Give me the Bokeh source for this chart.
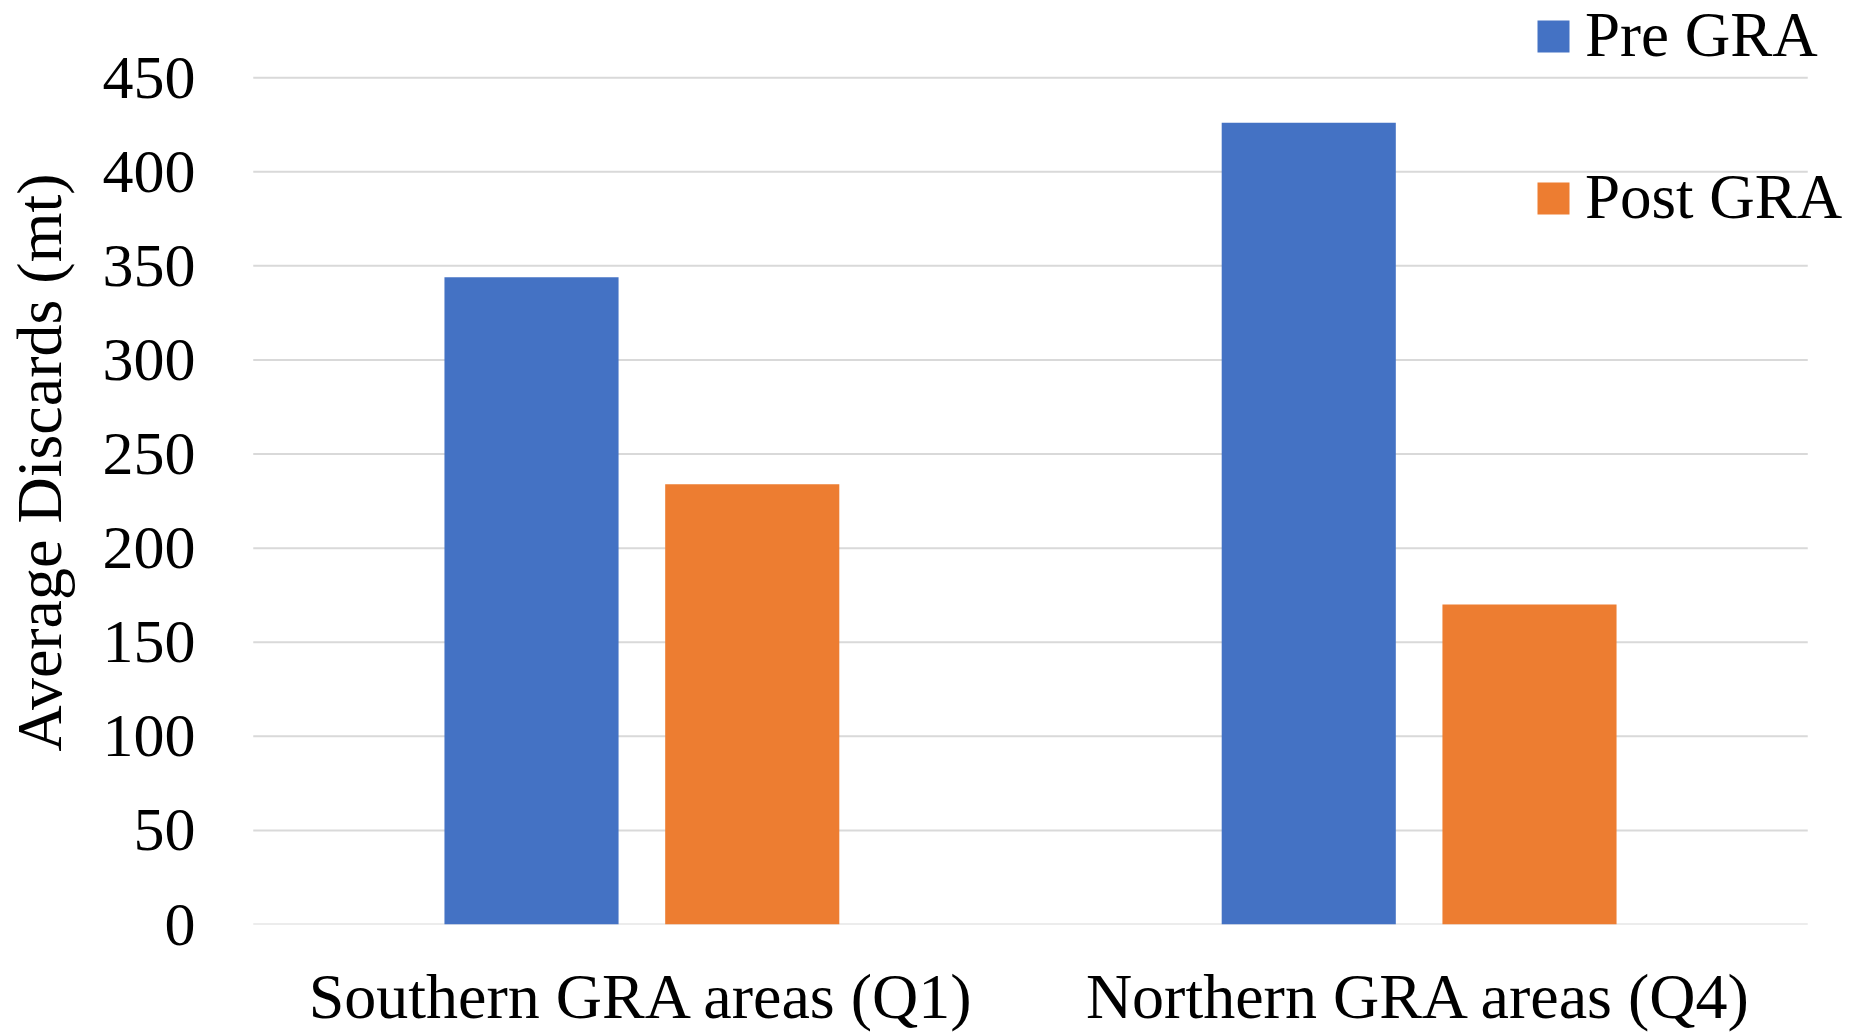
from bokeh.plotting import figure
from bokeh.models import (ColumnDataSource, FactorRange, Range1d, Legend, LegendItem,
                          FixedTicker)
from bokeh.transform import dodge
from bokeh.embed import file_html
from bokeh.resources import INLINE

categories = ["Southern GRA areas (Q1)", "Northern GRA areas (Q4)"]
series = ["Pre GRA", "Post GRA"]
pre_gra = [344, 426]
post_gra = [234, 170]
colors = ["#4472C4", "#ED7D31"]
y_ticks = [0, 50, 100, 150, 200, 250, 300, 350, 400, 450]
y_label = "Average Discards (mt)"

FONT = "Liberation Serif"

src = ColumnDataSource(dict(cat=categories, pre=pre_gra, post=post_gra))
grid_src = ColumnDataSource(dict(c0=[categories[0]] * len(y_ticks),
                                 c1=[categories[-1]] * len(y_ticks),
                                 y=y_ticks))

p = figure(x_range=FactorRange(*categories, range_padding=0.046,
                               range_padding_units="absolute"),
           y_range=Range1d(0, 491),
           width=1862, height=1034, output_backend="svg", toolbar_location=None,
           min_border_left=217, min_border_right=19, min_border_top=0,
           min_border_bottom=105)

# horizontal gridlines spanning only the category area
p.segment(x0=dodge("c0", -0.5, range=p.x_range), x1=dodge("c1", 0.5, range=p.x_range),
          y0="y", y1="y", source=grid_src, line_color="#D9D9D9", line_width=2)

r_pre = p.vbar(x=dodge("cat", -0.142, range=p.x_range), top="pre", width=0.224,
               source=src, color=colors[0], line_color=None)
r_post = p.vbar(x=dodge("cat", 0.142, range=p.x_range), top="post", width=0.224,
                source=src, color=colors[1], line_color=None)

p.outline_line_color = None
p.xgrid.grid_line_color = None
p.ygrid.grid_line_color = None

p.yaxis.ticker = FixedTicker(ticks=y_ticks)
for ax in (p.xaxis[0], p.yaxis[0]):
    ax.axis_line_color = None
    ax.major_tick_line_color = None
    ax.minor_tick_line_color = None
    ax.major_label_text_font = FONT
    ax.major_label_text_color = "black"
p.yaxis.major_label_text_font_size = "62px"
p.xaxis.major_label_text_font_size = "64px"
p.yaxis.major_label_standoff = 16
p.xaxis.major_label_standoff = 30

p.yaxis.axis_label = y_label
p.yaxis.axis_label_text_font = FONT
p.yaxis.axis_label_text_font_size = "64px"
p.yaxis.axis_label_text_font_style = "normal"
p.yaxis.axis_label_text_color = "black"
p.yaxis.axis_label_standoff = 25

common = dict(padding=0, margin=0, glyph_width=40, glyph_height=40, label_height=31,
              label_standoff=12, label_text_font=FONT, label_text_font_size="63px",
              label_text_color="black", border_line_color=None,
              background_fill_alpha=0)
leg_pre = Legend(items=[LegendItem(label=series[0], renderers=[r_pre])],
                 location=(1316, 852), **common)
leg_post = Legend(items=[LegendItem(label=series[1], renderers=[r_post])],
                  location=(1316, 690), **common)
p.add_layout(leg_pre, "center")
p.add_layout(leg_post, "center")

open("out.html", "w").write(file_html(p, INLINE))
